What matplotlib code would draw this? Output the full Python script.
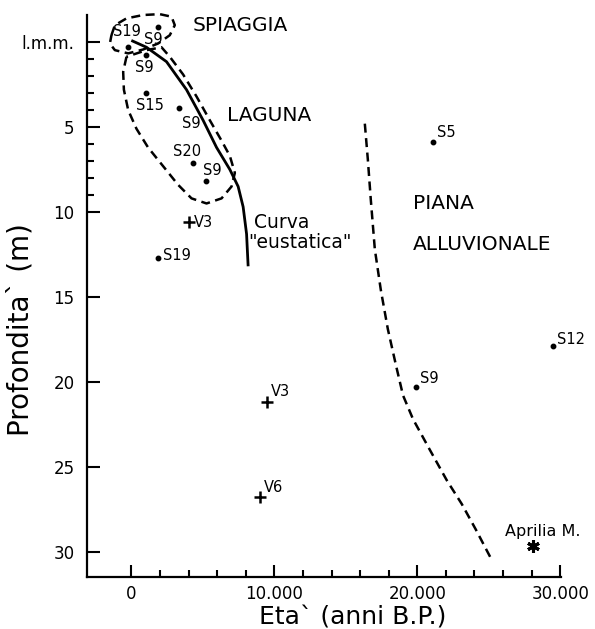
#!/usr/bin/env python3
"""Curva eustatica: profondita' vs eta' dei campioni datati."""

import numpy as np
import matplotlib.pyplot as plt
from matplotlib.ticker import FixedLocator

plt.rcParams["font.family"] = ["DejaVu Sans"]

# campioni datati (eta' in anni B.P., profondita' in m)
dot_names = ["S19", "S9", "S9", "S15", "S9", "S20", "S9", "S19", "S5", "S12", "S9"]
dot_age = [-200, 1900, 1000, 1000, 3300, 4300, 5200, 1900, 21100, 29500, 19900]
dot_depth = [0.3, -0.9, 0.76, 3.0, 3.9, 7.1, 8.2, 12.7, 5.9, 17.9, 20.3]

plus_names = ["V3", "V3", "V6"]
plus_age = [4000, 9500, 9000]
plus_depth = [10.6, 21.2, 26.8]

star_name = "Aprilia M."
star_age = [28100]
star_depth = [29.7]

# curva "eustatica" (linea continua)
eus_age = [0, 1060, 2460, 3860, 5020, 5960, 6890, 7470, 7820, 8060, 8170]
eus_depth = [-0.1, 0.3, 1.15, 2.8, 4.6, 6.2, 7.5, 8.5, 9.7, 11.3, 13.2]

# limite della piana alluvionale (tratteggio)
lim_age = [16330, 16540, 16750, 17030, 17450, 17940, 18500, 19000, 19700,
           20870, 22060, 23110, 24090, 25210]
lim_depth = [4.8, 6.9, 9.3, 12.2, 14.6, 16.9, 19.0, 20.8, 22.2, 24.0, 25.8,
             27.2, 28.7, 30.5]

# contorno laguna
lag_age = [-340, -570, -520, -220, 360, 1170, 2220, 3270, 4210, 5260, 6310,
           7010, 7240, 6890, 6310, 5490, 4560, 3620, 2690, 2110, 1060, -340]
lag_depth = [0.86, 1.75, 2.8, 4.0, 5.1, 6.2, 7.3, 8.4, 9.2, 9.5, 9.2, 8.5,
             7.7, 6.7, 5.8, 4.6, 3.2, 1.9, 0.86, 0.3, 0.47, 0.86]

# contorno spiaggia
spi_age = [-1390, -1150, -340, 830, 1990, 2810, 3040, 2690, 1870, 830, -220,
           -1150, -1500, -1390]
spi_depth = [-0.41, -1.0, -1.4, -1.6, -1.65, -1.5, -1.0, -0.41, 0.08, 0.43,
             0.66, 0.47, 0.08, -0.41]

# offset delle etichette (punti)
dot_off = [(-1, 11, "center"), (-4, -9, "center"), (-1, -9, "center"),
           (3, -9, "center"), (9, -11, "center"), (-4, 8, "center"),
           (5, 8, "center"), (3, 2, "left"), (3, 7, "left"), (3, 5, "left"),
           (3, 6, "left")]
plus_off = [(4, 0), (3, 8), (3, 7)]

fig = plt.figure(figsize=(5.95, 6.29), dpi=100)
ax = fig.add_axes([87 / 595, 52 / 629, (561 - 87) / 595, (577 - 15) / 629])

dash = (0, (3.6, 2.2))
ax.plot(eus_age, eus_depth, color="k", lw=2.0, solid_capstyle="butt")
ax.plot(lim_age, lim_depth, color="k", lw=1.8, linestyle=dash)
ax.plot(lag_age, lag_depth, color="k", lw=1.8, linestyle=dash)
ax.plot(spi_age, spi_depth, color="k", lw=1.8, linestyle=dash, clip_on=False)

ax.plot(dot_age, dot_depth, "o", color="k", ms=3.2, ls="none")
ax.plot(plus_age, plus_depth, "+", color="k", ms=9, mew=1.8, ls="none")
ax.plot(star_age, star_depth, marker=(6, 2, 0), color="k", ms=9, mew=2.2,
        ls="none")

for name, x, y, (dx, dy, ha) in zip(dot_names, dot_age, dot_depth, dot_off):
    ax.annotate(name, (x, y), xytext=(dx, dy), textcoords="offset points",
                ha=ha, va="center", fontsize=10.5)
for name, x, y, (dx, dy) in zip(plus_names, plus_age, plus_depth, plus_off):
    ax.annotate(name, (x, y), xytext=(dx, dy), textcoords="offset points",
                ha="left", va="center", fontsize=10.5)
ax.annotate(star_name, (star_age[0], star_depth[0]), xytext=(7, 11),
            textcoords="offset points", ha="center", va="center", fontsize=11.5)

# zone
ax.text(4300, -1.0, "SPIAGGIA", fontsize=14.5, va="center", ha="left")
ax.text(6700, 4.3, "LAGUNA", fontsize=14.5, va="center", ha="left")
ax.text(8570, 10.6, "Curva", fontsize=13.5, va="center", ha="left")
ax.text(8150, 11.8, "\"eustatica\"", fontsize=13.5, va="center", ha="left")
ax.text(19700, 9.5, "PIANA", fontsize=14.5, va="center", ha="left")
ax.text(19700, 11.9, "ALLUVIONALE", fontsize=14.5, va="center", ha="left")

ax.set_xlim(-3100, 30050)
ax.set_ylim(31.5, -1.6)

for side in ("top", "right"):
    ax.spines[side].set_visible(False)
for side in ("left", "bottom"):
    ax.spines[side].set_linewidth(1.6)

ax.set_xticks([0, 10000, 20000, 30000])
ax.set_xticklabels(["0", "10.000", "20.000", "30.000"])
ax.xaxis.set_minor_locator(FixedLocator(np.arange(2000, 30000, 2000)))
ax.set_yticks([0, 5, 10, 15, 20, 25, 30])
ax.set_yticklabels(["l.m.m.", "5", "10", "15", "20", "25", "30"])
ax.yaxis.set_minor_locator(FixedLocator([1, 2, 3, 4, 6, 7, 8, 9]))
ax.tick_params(which="major", direction="in", length=9, width=1.5,
               labelsize=12)
ax.tick_params(axis="x", which="major", pad=6)
ax.tick_params(axis="y", which="major", pad=9)
ax.tick_params(which="minor", direction="in", length=5, width=1.5)

ax.set_xlabel("Eta` (anni B.P.)", fontsize=18)
ax.xaxis.set_label_coords(0.56, -0.05)
ax.set_ylabel("Profondita` (m)", fontsize=20)
ax.yaxis.set_label_coords(-0.11, 0.44)

fig.savefig("out.png", dpi=100)
